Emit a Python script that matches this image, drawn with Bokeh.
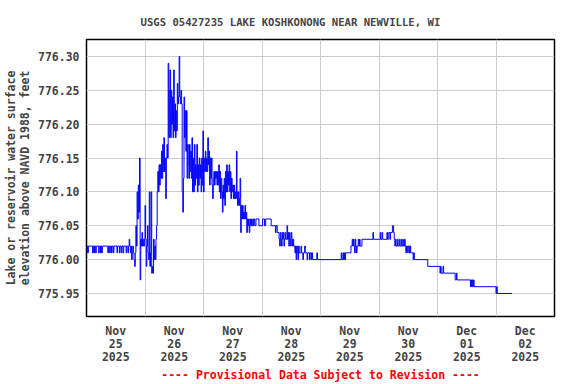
from bokeh.plotting import figure
from bokeh.models import FixedTicker, Range1d, Title, PrintfTickFormatter
from bokeh.embed import file_html
from bokeh.resources import INLINE

# Time of each reading, hours after 2025-11-25 00:00
hours = [
    0, 0.25, 0.5, 0.75, 2.5, 2.75, 3.0, 3.25, 3.75, 4.0, 5.0, 5.25, 5.75, 6.0, 6.25, 6.5,
    8.75, 9.0, 9.5, 9.75, 10.25, 10.5, 11.0, 11.25, 12.5, 12.75, 13.5, 13.75, 14.25, 14.5, 15.0, 15.25, 16.25, 16.5, 17.0, 17.25,
    17.5, 17.75, 18.0, 18.25, 18.5, 18.75, 19.0, 19.25, 19.5, 19.75, 20.0, 20.25, 20.5, 20.75, 21.0, 21.25, 21.5, 21.75, 22.0,
    22.25, 22.5, 22.75, 23.0, 23.25, 23.5, 23.75, 24.0,
    24.25, 24.5, 24.75, 25.0, 25.25, 25.5, 25.75, 26.0,
    26.25, 26.5, 26.75, 27.0, 27.25, 27.5, 27.75, 28.0,
    28.25, 28.5, 28.75, 29.0, 29.25, 29.5, 29.75, 30.0,
    30.25, 30.5, 30.75, 31.0, 31.25, 31.5, 31.75, 32.0,
    32.25, 32.5, 32.75, 33.0, 33.25, 33.5, 33.75, 34.0,
    34.25, 34.5, 34.75, 35.0, 35.25, 35.5, 35.75, 36.0,
    36.25, 36.5, 36.75, 37.0, 37.25, 37.5, 37.75, 38.0,
    38.25, 38.5, 38.75, 39.0, 39.25, 39.5, 39.75, 40.0,
    40.25, 40.5, 40.75, 41.0, 41.25, 41.5, 41.75, 42.0,
    42.25, 42.5, 42.75, 43.0, 43.25, 43.5, 43.75, 44.0,
    44.25, 44.5, 44.75, 45.0, 45.25, 45.5, 45.75, 46.0,
    46.25, 46.5, 46.75, 47.0, 47.25, 47.5, 47.75, 48.0,
    48.25, 48.5, 48.75, 49.0, 49.25, 49.5, 49.75, 50.0,
    50.25, 50.5, 50.75, 51.0, 51.25, 51.5, 51.75, 52.0,
    52.25, 52.5, 52.75, 53.0, 53.25, 53.5, 53.75, 54.0,
    54.25, 54.5, 54.75, 55.0, 55.25, 55.5, 55.75, 56.0,
    56.25, 56.5, 56.75, 57.0, 57.25, 57.5, 57.75, 58.0,
    58.25, 58.5, 58.75, 59.0, 59.25, 59.5, 59.75, 60.0,
    60.25, 60.5, 60.75, 61.0, 61.25, 61.5, 61.75, 62.0,
    62.25, 62.5, 62.75, 63.0, 63.25, 63.5, 63.75, 64.0,
    64.25, 64.5, 64.75, 65.0, 65.25, 65.5, 65.75, 66.0,
    66.25, 66.5, 66.75, 67.0, 67.25, 67.5, 67.75, 68.0,
    68.5, 69.0, 69.5, 70.75, 72.25, 73.0, 73.5, 75.75,
    77.5, 77.75, 78.25, 79.0, 79.25, 79.5, 79.75, 80.0,
    80.25, 80.5, 80.75, 81.0, 81.25, 81.5, 81.75, 82.25,
    82.5, 82.75, 83.0, 83.25, 83.5, 83.75, 84.0, 84.25,
    84.5, 84.75, 85.0, 85.5, 85.75, 86.0, 86.25, 86.5,
    86.75, 87.0, 87.25, 88.0, 88.25, 88.75, 89.0, 89.5,
    89.75, 90.5, 90.75, 91.5, 91.75, 92.25, 92.5, 92.75,
    94.5, 94.75, 104.5, 104.75, 105.25, 105.5, 105.75, 106.0,
    106.25, 108.5, 109.0, 109.25, 109.5, 109.75, 110.0, 110.25,
    110.5, 110.75, 111.0, 111.5, 111.75, 112.0, 112.25, 113.0,
    117.5, 117.75, 120.5, 120.75, 121.25, 121.5, 123.25, 123.5,
    124.0, 124.5, 124.75, 125.5, 126.0, 126.25, 126.5, 126.75,
    127.0, 127.5, 127.75, 128.25, 128.5, 129.0, 129.25, 129.75,
    130.0, 130.5, 130.75, 131.0, 131.25, 131.75, 132.0, 132.5,
    132.75, 133.0, 134.0, 134.25, 134.5, 140.0, 145.0, 145.25,
    145.5, 146.25, 146.5, 151.25, 151.75, 152.0, 157.5, 157.75,
    158.0, 158.25, 158.5, 158.75, 159.0, 168.0, 168.25, 168.5,
    174.5,
]

# Lake elevation, feet above NAVD 1988
stage = [
    776.01, 776.02, 776.01, 776.02, 776.01, 776.02, 776.01, 776.02, 776.01, 776.02, 776.01, 776.02, 776.01, 776.02, 776.01, 776.02,
    776.01, 776.02, 776.01, 776.02, 776.01, 776.02, 776.01, 776.02, 776.01, 776.02, 776.01, 776.02, 776.01, 776.02, 776.01, 776.02, 776.01, 776.02, 776.01, 776.02,
    776.03, 776.02, 776.01, 776.02, 776.00, 776.01, 776.02, 776.01, 776.00, 775.99, 776.01, 776.05, 776.02, 776.10, 776.06, 776.11, 776.07, 776.15, 775.97,
    776.03, 776.02, 776.04, 776.02, 776.03, 776.02, 776.03, 776.08,
    776.03, 775.99, 776.02, 776.05, 776.01, 776.00, 776.10, 775.99,
    776.01, 776.10, 775.98, 775.99, 775.98, 776.03, 776.00, 776.02,
    776.00, 776.03, 776.05, 776.10, 776.13, 776.10, 776.14, 776.11,
    776.14, 776.12, 776.16, 776.12, 776.17, 776.13, 776.18, 776.13,
    776.15, 776.09, 776.15, 776.17, 776.15, 776.29, 776.18, 776.25,
    776.28, 776.18, 776.25, 776.20, 776.24, 776.18, 776.28, 776.19,
    776.23, 776.18, 776.22, 776.19, 776.26, 776.23, 776.24, 776.30,
    776.24, 776.23, 776.25, 776.23, 776.10, 776.07, 776.12, 776.24,
    776.18, 776.22, 776.16, 776.22, 776.12, 776.17, 776.14, 776.12,
    776.17, 776.13, 776.16, 776.12, 776.18, 776.10, 776.15, 776.10,
    776.17, 776.11, 776.14, 776.12, 776.17, 776.10, 776.14, 776.11,
    776.15, 776.12, 776.14, 776.10, 776.15, 776.11, 776.19, 776.10,
    776.15, 776.13, 776.16, 776.13, 776.15, 776.13, 776.18, 776.14,
    776.16, 776.11, 776.15, 776.12, 776.15, 776.11, 776.09, 776.12,
    776.13, 776.11, 776.13, 776.12, 776.13, 776.11, 776.13, 776.11,
    776.14, 776.10, 776.13, 776.09, 776.12, 776.10, 776.07, 776.11,
    776.09, 776.12, 776.08, 776.13, 776.10, 776.14, 776.10, 776.13,
    776.11, 776.14, 776.10, 776.13, 776.09, 776.12, 776.10, 776.11,
    776.09, 776.11, 776.09, 776.10, 776.09, 776.16, 776.10, 776.08,
    776.10, 776.08, 776.09, 776.12, 776.04, 776.08, 776.06, 776.08,
    776.06, 776.07, 776.06, 776.08, 776.06, 776.07, 776.04, 776.06,
    776.05, 776.06, 776.04, 776.05, 776.06, 776.05, 776.06, 776.05,
    776.06, 776.05, 776.06, 776.05, 776.06, 776.05, 776.06, 776.05,
    776.04, 776.05, 776.04, 776.03, 776.02, 776.04, 776.03, 776.02,
    776.04, 776.03, 776.04, 776.02, 776.03, 776.04, 776.03, 776.05,
    776.03, 776.04, 776.02, 776.04, 776.03, 776.02, 776.04, 776.03,
    776.02, 776.03, 776.02, 776.01, 776.02, 776.00, 776.02, 776.01,
    776.00, 776.02, 776.01, 776.02, 776.01, 776.00, 776.01, 776.02,
    776.01, 776.00, 776.01, 776.00, 776.01, 776.00, 776.01, 776.00,
    776.01, 776.00, 776.01, 776.00, 776.01, 776.00, 776.01, 776.00,
    776.01, 776.02, 776.03, 776.02, 776.03, 776.02, 776.01, 776.03,
    776.02, 776.01, 776.02, 776.03, 776.02, 776.03, 776.02, 776.03,
    776.04, 776.03, 776.04, 776.03, 776.04, 776.03, 776.04, 776.03,
    776.04, 776.03, 776.04, 776.05, 776.04, 776.03, 776.02, 776.03,
    776.02, 776.03, 776.02, 776.03, 776.02, 776.03, 776.02, 776.03,
    776.02, 776.03, 776.02, 776.01, 776.02, 776.01, 776.02, 776.01,
    776.02, 776.01, 776.00, 776.01, 776.00, 775.99, 775.98, 775.99,
    775.98, 775.99, 775.98, 775.97, 775.98, 775.97, 775.96, 775.97,
    775.96, 775.97, 775.96, 775.97, 775.96, 775.95, 775.96, 775.95,
    775.95,
]

# Day labels sit at noon, grid lines at midnight
day_ticks = [12, 36, 60, 84, 108, 132, 156, 180]
day_labels = ["Nov\n25\n2025", "Nov\n26\n2025", "Nov\n27\n2025", "Nov\n28\n2025",
              "Nov\n29\n2025", "Nov\n30\n2025", "Dec\n01\n2025", "Dec\n02\n2025"]
midnights = [24, 48, 72, 96, 120, 144, 168]
y_ticks = [775.95, 776.00, 776.05, 776.10, 776.15, 776.20, 776.25, 776.30]

FONT = "DejaVu Sans Mono"

p = figure(width=576, height=384,
           x_range=Range1d(0, 192), y_range=Range1d(775.916, 776.325),
           output_backend="svg", toolbar_location=None,
           min_border_left=86, min_border_right=22,
           min_border_top=39, min_border_bottom=68)

p.step(hours, stage, mode="after", line_color="#0000ff", line_width=1)

p.title.text = "USGS 05427235 LAKE KOSHKONONG NEAR NEWVILLE, WI"
p.title.text_font = FONT
p.title.text_font_style = "bold"
p.title.text_font_size = "10.6px"
p.title.align = "left"
p.title.offset = 54
p.title.standoff = 24

p.add_layout(Title(text="---- Provisional Data Subject to Revision ----",
                   text_color="#ff0000", text_font=FONT, text_font_style="bold",
                   text_font_size="11.5px", align="center", standoff=-3), "below")

p.outline_line_color = "black"
p.outline_line_width = 1.5
p.background_fill_color = "white"
p.border_fill_color = "white"

xa = p.xaxis[0]
xa.ticker = FixedTicker(ticks=day_ticks)
xa.major_label_overrides = dict(zip(day_ticks, day_labels))
xa.axis_line_color = None
xa.major_tick_line_color = None
xa.minor_tick_line_color = None
xa.major_tick_out = 0
xa.major_tick_in = 0
xa.major_label_standoff = 7
xa.major_label_text_font = FONT
xa.major_label_text_font_style = "bold"
xa.major_label_text_font_size = "11.5px"
xa.major_label_text_line_height = 0.96

ya = p.yaxis[0]
ya.ticker = FixedTicker(ticks=y_ticks)
ya.formatter = PrintfTickFormatter(format="%.2f")
ya.axis_line_color = None
ya.major_tick_line_color = None
ya.minor_tick_line_color = None
ya.major_tick_out = 0
ya.major_tick_in = 0
ya.major_label_standoff = 7
ya.major_label_text_font = FONT
ya.major_label_text_font_style = "bold"
ya.major_label_text_font_size = "11.5px"
ya.axis_label = "Lake or reservoir water surface\nelevation above NAVD 1988, feet"
ya.axis_label_text_font = FONT
ya.axis_label_text_font_style = "bold"
ya.axis_label_text_font_size = "11.5px"
ya.axis_label_standoff = 3
ya.axis_label_text_line_height = 1.0

p.xgrid.ticker = FixedTicker(ticks=midnights)
p.ygrid.ticker = FixedTicker(ticks=y_ticks)
p.xgrid.grid_line_color = "#cccccc"
p.ygrid.grid_line_color = "#cccccc"
p.xgrid.grid_line_width = 1
p.ygrid.grid_line_width = 1

open("out.html", "w").write(file_html(p, INLINE))
